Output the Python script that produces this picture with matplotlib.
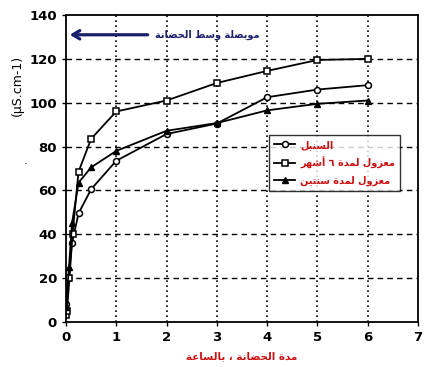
import matplotlib
matplotlib.use("Agg")
import matplotlib.pyplot as plt

# ---------------- data ----------------
t_sunbul = [0, 0.05, 0.12, 0.25, 0.5, 1, 2, 3, 4, 5, 6]
v_sunbul = [8, 20, 36, 49.5, 60.5, 73.5, 85.7, 90.5, 102.5, 106, 108]

t_six = [0, 0.02, 0.07, 0.13, 0.25, 0.5, 1, 2, 3, 4, 5, 6]
v_six = [3, 5, 20, 40, 68.5, 83.5, 96, 101, 109, 114.5, 119.5, 120]

t_two = [0, 0.06, 0.12, 0.25, 0.5, 1, 2, 3, 4, 5, 6]
v_two = [7, 25, 45, 63.5, 70.5, 78, 87.2, 90.7, 96.5, 99.5, 101]

xticks = [0, 1, 2, 3, 4, 5, 6, 7]
yticks = [0, 20, 40, 60, 80, 100, 120, 140]

lbl_sunbul = "السنبل"
lbl_six = "معزول لمدة ٦ أشهر"
lbl_two = "معزول لمدة سنتين"
lbl_x = "مدة الحضانة ، بالساعة"
lbl_arrow = "مويصلة وسط الحضانة"
lbl_y = "(µS.cm-1)"

# ------------- simple Arabic shaping -------------
FORMS = {
    'ا': (0xFE8D, 0xFE8E, None, None),
    'أ': (0xFE83, 0xFE84, None, None),
    'ب': (0xFE8F, 0xFE90, 0xFE91, 0xFE92),
    'ة': (0xFE93, 0xFE94, None, None),
    'ت': (0xFE95, 0xFE96, 0xFE97, 0xFE98),
    'ح': (0xFEA1, 0xFEA2, 0xFEA3, 0xFEA4),
    'د': (0xFEA9, 0xFEAA, None, None),
    'ر': (0xFEAD, 0xFEAE, None, None),
    'ز': (0xFEAF, 0xFEB0, None, None),
    'س': (0xFEB1, 0xFEB2, 0xFEB3, 0xFEB4),
    'ش': (0xFEB5, 0xFEB6, 0xFEB7, 0xFEB8),
    'ص': (0xFEB9, 0xFEBA, 0xFEBB, 0xFEBC),
    'ض': (0xFEBD, 0xFEBE, 0xFEBF, 0xFEC0),
    'ط': (0xFEC1, 0xFEC2, 0xFEC3, 0xFEC4),
    'ع': (0xFEC9, 0xFECA, 0xFECB, 0xFECC),
    'ل': (0xFEDD, 0xFEDE, 0xFEDF, 0xFEE0),
    'م': (0xFEE1, 0xFEE2, 0xFEE3, 0xFEE4),
    'ن': (0xFEE5, 0xFEE6, 0xFEE7, 0xFEE8),
    'ه': (0xFEE9, 0xFEEA, 0xFEEB, 0xFEEC),
    'و': (0xFEED, 0xFEEE, None, None),
    'ي': (0xFEF1, 0xFEF2, 0xFEF3, 0xFEF4),
}


def shape(s):
    out = []
    n = len(s)
    for i, ch in enumerate(s):
        if ch not in FORMS:
            out.append(ch)
            continue
        iso, fin, ini, med = FORMS[ch]
        prev = s[i - 1] if i > 0 else None
        nxt = s[i + 1] if i < n - 1 else None
        jp = prev in FORMS and FORMS[prev][2] is not None
        jn = ini is not None and nxt in FORMS
        if jp and jn:
            c = med
        elif jp:
            c = fin
        elif jn:
            c = ini
        else:
            c = iso
        out.append(chr(c))
    return "".join(out)[::-1]


plt.rcParams['font.family'] = ['DejaVu Sans']

fig = plt.figure(figsize=(4.34, 3.67), dpi=100)
ax = fig.add_axes([0.152, 0.123, 0.811, 0.836])

lw = 1.3
ms = 4.3
ax.plot(t_sunbul, v_sunbul, color='black', lw=lw, marker='o', ms=ms,
        mfc='white', mec='black', mew=1.1, label=shape(lbl_sunbul))
ax.plot(t_six, v_six, color='black', lw=lw, marker='s', ms=ms,
        mfc='white', mec='black', mew=1.1, label=shape(lbl_six))
ax.plot(t_two, v_two, color='black', lw=lw, marker='^', ms=ms + 0.5,
        mfc='black', mec='black', label=shape(lbl_two))

ax.set_xlim(0, 7)
ax.set_ylim(0, 140)
ax.set_xticks(xticks)
ax.set_yticks(yticks)
ax.tick_params(labelsize=9.5, width=1, length=3, direction='out')
for lab in ax.get_xticklabels() + ax.get_yticklabels():
    lab.set_fontweight('bold')

for y in yticks[1:-1]:
    ax.axhline(y, color='black', lw=1.0, ls=(0, (4, 3)), zorder=0)
for x in xticks[1:-1]:
    ax.axvline(x, color='black', lw=1.2, ls=(0, (1, 2)), zorder=0)

for sp in ax.spines.values():
    sp.set_linewidth(1.3)

ax.set_ylabel(lbl_y, fontsize=9)
ax.yaxis.set_label_coords(-0.12, 0.77)
ax.set_xlabel(shape(lbl_x), fontsize=7.5, color='#cc1111', fontweight='bold',
              labelpad=5)

ax.annotate('', xy=(0.02, 131), xytext=(1.68, 131),
            arrowprops=dict(arrowstyle='->,head_length=0.5,head_width=0.3',
                            color='#1b1f6b', lw=2.3))
ax.text(2.8, 131, shape(lbl_arrow), fontsize=7, color='#1b1f6b',
        fontweight='bold', ha='center', va='center')

leg = ax.legend(loc='upper right', bbox_to_anchor=(0.963, 0.625),
                fontsize=7, frameon=True, fancybox=False, edgecolor='black',
                handlelength=2.2, borderpad=0.5, labelspacing=0.7,
                handletextpad=0.5)
leg.get_frame().set_linewidth(1.0)
for txt in leg.get_texts():
    txt.set_color('#cc1111')
    txt.set_fontweight('bold')

fig.text(26 / 434, 1 - 161 / 367, '.', fontsize=8, ha='center', va='center')

fig.savefig('out.png', dpi=100)
